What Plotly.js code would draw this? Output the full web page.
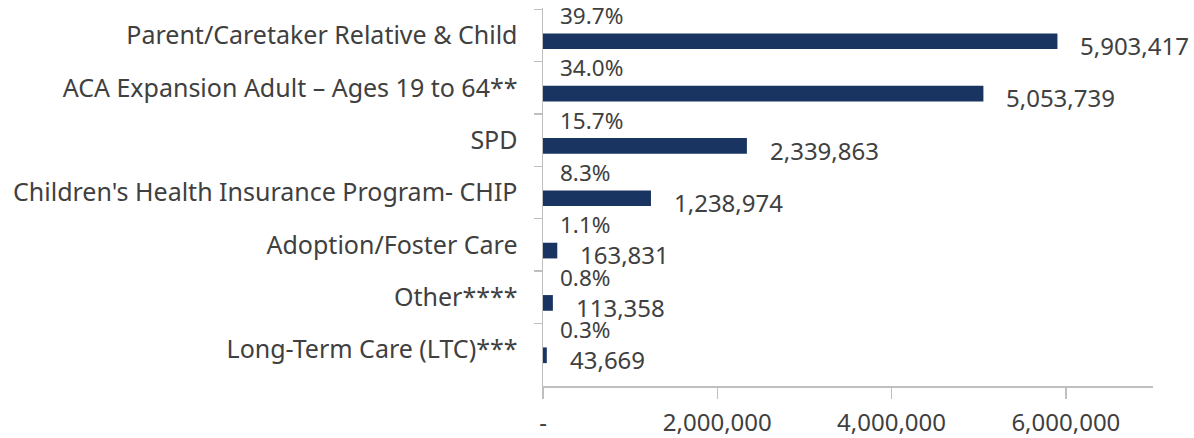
<!DOCTYPE html>
<html>
<head>
<meta charset="utf-8">
<script src="https://cdn.plot.ly/plotly-3.0.1.min.js"></script>
<style>html,body{margin:0;padding:0;background:#fff;}#chart{width:1194px;height:438px;}</style>
</head>
<body>
<div id="chart"></div>
<script>
const categories = [
  "Parent/Caretaker Relative & Child",
  "ACA Expansion Adult \u2013 Ages 19 to 64**",
  "SPD",
  "Children's Health Insurance Program- CHIP",
  "Adoption/Foster Care",
  "Other****",
  "Long-Term Care (LTC)***"
];
const enrollment = [5903417, 5053739, 2339863, 1238974, 163831, 113358, 43669];
const shareLabels = ["39.7%", "34.0%", "15.7%", "8.3%", "1.1%", "0.8%", "0.3%"];
const xTickVals = [0, 2000000, 4000000, 6000000];
const xTickText = ["-", "2,000,000", "4,000,000", "6,000,000"];

const FONT = "Noto Sans, Open Sans, sans-serif";
const TXT = "#404040";
const fmt = v => v.toLocaleString("en-US");

const annotations = [];
categories.forEach((c, i) => {
  annotations.push({
    x: 0, y: c, xref: "x", yref: "y", text: shareLabels[i],
    showarrow: false, xanchor: "left", yanchor: "middle", borderpad: 0,
    xshift: 16, yshift: 20, font: {family: FONT, size: 22.5, color: TXT}
  });
  annotations.push({
    x: enrollment[i], y: c, xref: "x", yref: "y", text: fmt(enrollment[i]),
    showarrow: false, xanchor: "left", yanchor: "middle", borderpad: 0,
    xshift: 22, yshift: -10, font: {family: FONT, size: 24, color: TXT}
  });
});

const data = [{
  type: "bar",
  orientation: "h",
  x: enrollment,
  y: categories,
  width: 0.3,
  offset: -0.04,
  marker: {color: "#1a3461"},
  hoverinfo: "x+y"
}];

const layout = {
  width: 1194, height: 438,
  margin: {l: 543, r: 41, t: 8, b: 52, pad: 0},
  paper_bgcolor: "#fff", plot_bgcolor: "#fff",
  showlegend: false,
  font: {family: FONT, size: 24, color: TXT},
  xaxis: {
    range: [0, 7000000],
    tickvals: xTickVals, ticktext: xTickText,
    showgrid: false, zeroline: false,
    showline: true, linecolor: "#bfbfbf", linewidth: 1.5,
    ticks: "outside", ticklen: 11, tickcolor: "#bfbfbf", tickwidth: 1.5,
    ticklabelstandoff: 4,
    tickfont: {family: FONT, size: 24, color: TXT},
    fixedrange: true
  },
  yaxis: {
    type: "category",
    autorange: "reversed",
    showgrid: false, zeroline: false,
    showline: true, linecolor: "#bfbfbf", linewidth: 1.5,
    ticks: "outside", ticklen: 8, tickcolor: "#bfbfbf", tickwidth: 1.5,
    tickson: "boundaries",
    ticklabelstandoff: 19,
    tickfont: {family: FONT, size: 25, color: TXT},
    fixedrange: true
  },
  annotations: annotations
};

Plotly.newPlot("chart", data, layout, {displayModeBar: false, staticPlot: true});
</script>
</body>
</html>
